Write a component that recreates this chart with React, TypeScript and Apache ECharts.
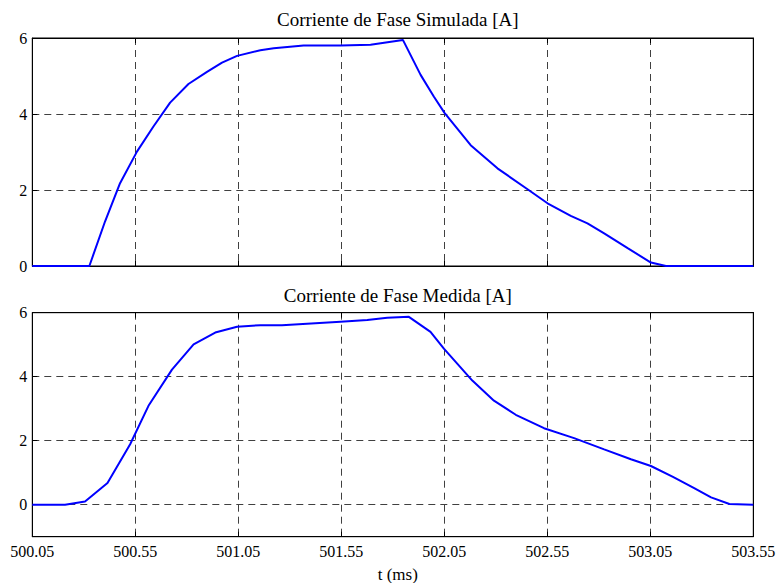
import React, { useEffect, useRef } from "react";
import * as echarts from "echarts";

const simTime = [
  500.05, 500.327, 500.403, 500.476, 500.558, 500.638, 500.719, 500.808, 500.898, 500.971,
  501.044, 501.157, 501.222, 501.367, 501.546, 501.692, 501.849, 501.935, 501.999, 502.051,
  502.178, 502.308, 502.454, 502.551, 502.664, 502.745, 502.826, 502.94, 503.053, 503.126, 503.55,
];
const simCurrent = [
  0, 0, 1.17, 2.18, 3.01, 3.67, 4.3, 4.79, 5.11, 5.35,
  5.53, 5.68, 5.73, 5.8, 5.8, 5.82, 5.95, 5.03, 4.46, 4.03,
  3.18, 2.57, 2.02, 1.65, 1.32, 1.12, 0.86, 0.47, 0.09, 0, 0,
];

const medTime = [
  500.05, 500.209, 500.306, 500.415, 500.525, 500.614, 500.728, 500.833, 500.938, 501.044,
  501.157, 501.262, 501.546, 501.676, 501.773, 501.878, 501.983, 502.048, 502.186, 502.291,
  502.397, 502.534, 502.68, 502.826, 502.956, 503.053, 503.16, 503.263, 503.345, 503.434, 503.55,
];
const medCurrent = [
  0, 0, 0.1, 0.68, 1.89, 3.09, 4.22, 5.01, 5.38, 5.56,
  5.61, 5.61, 5.72, 5.77, 5.84, 5.87, 5.4, 4.88, 3.88, 3.25,
  2.81, 2.39, 2.08, 1.73, 1.42, 1.21, 0.87, 0.52, 0.23, 0.02, 0,
];

const xTickStart = 500.05;
const xTickEnd = 503.55;
const xTickStep = 0.5;

const topTitle = "Corriente de Fase Simulada [A]";
const bottomTitle = "Corriente de Fase Medida [A]";
const xLabel = "t (ms)";

const FONT = "Liberation Serif";

export default function App() {
  const ref = useRef<HTMLDivElement>(null);

  useEffect(() => {
    if (!ref.current) return;
    const chart = echarts.init(ref.current, undefined, { renderer: "svg" });

    const dash = { type: [7, 5], color: "#404040", width: 1 };
    const line = { show: true, onZero: false, lineStyle: { color: "#000", width: 1 } };
    const tick = { show: true, inside: true, length: 5, lineStyle: { color: "#000" } };
    const label = { fontFamily: FONT, fontSize: 16, color: "#000" };
    const titleStyle = { fontFamily: FONT, fontSize: 19, fontWeight: "normal", color: "#000" };

    const xBase = {
      type: "value",
      min: xTickStart,
      max: xTickEnd,
      interval: xTickStep,
      axisLine: line,
      axisTick: tick,
    };

    const option: any = {
      animation: false,
      backgroundColor: "#fff",
      title: [
        { text: topTitle, left: 392.8, top: 5, textAlign: "center", textStyle: titleStyle },
        { text: bottomTitle, left: 392.8, top: 281, textAlign: "center", textStyle: titleStyle },
        {
          text: xLabel,
          left: 392.8,
          top: 561,
          textAlign: "center",
          textStyle: { fontFamily: FONT, fontSize: 17, fontWeight: "normal", color: "#000" },
        },
      ],
      grid: [
        { left: 32.3, right: 25.7, top: 38, height: 228, show: true, borderColor: "#000", borderWidth: 1 },
        { left: 32.3, right: 25.7, top: 312.7, height: 224, show: true, borderColor: "#000", borderWidth: 1 },
      ],
      xAxis: [
        { ...xBase, gridIndex: 0, position: "bottom", axisLabel: { show: false }, splitLine: { show: true, lineStyle: dash } },
        { ...xBase, gridIndex: 0, position: "top", axisLabel: { show: false }, splitLine: { show: false } },
        {
          ...xBase,
          gridIndex: 1,
          position: "bottom",
          axisLabel: { ...label, margin: 7, showMinLabel: true, showMaxLabel: true, formatter: (v: number) => v.toFixed(2) },
          splitLine: { show: true, lineStyle: dash },
        },
        { ...xBase, gridIndex: 1, position: "top", axisLabel: { show: false }, splitLine: { show: false } },
      ],
      yAxis: [
        {
          type: "value", gridIndex: 0, position: "left", min: 0, max: 6, interval: 2,
          axisLine: line, axisTick: tick,
          axisLabel: { ...label, margin: 5 },
          splitLine: { show: true, lineStyle: dash },
        },
        {
          type: "value", gridIndex: 0, position: "right", min: 0, max: 6, interval: 2,
          axisLine: line, axisTick: tick, axisLabel: { show: false }, splitLine: { show: false },
        },
        {
          type: "value", gridIndex: 1, position: "left", min: -1, max: 6, splitNumber: 4,
          axisLine: line, axisTick: tick,
          axisLabel: { ...label, margin: 5, formatter: (v: number) => (v < 0 ? "" : String(v)) },
          splitLine: { show: true, lineStyle: dash },
        },
        {
          type: "value", gridIndex: 1, position: "right", min: -1, max: 6, splitNumber: 4,
          axisLine: line, axisTick: tick, axisLabel: { show: false }, splitLine: { show: false },
        },
      ],
      series: [
        {
          type: "line",
          xAxisIndex: 0,
          yAxisIndex: 0,
          data: simTime.map((t, i) => [t, simCurrent[i]]),
          showSymbol: false,
          lineStyle: { color: "#0000ff", width: 2 },
          clip: true,
        },
        {
          type: "line",
          xAxisIndex: 2,
          yAxisIndex: 2,
          data: medTime.map((t, i) => [t, medCurrent[i]]),
          showSymbol: false,
          lineStyle: { color: "#0000ff", width: 2 },
          clip: true,
        },
      ],
    };

    chart.setOption(option);
    return () => chart.dispose();
  }, []);

  return <div ref={ref} style={{ position: "absolute", left: 0, top: 0, width: 779, height: 583 }} />;
}
